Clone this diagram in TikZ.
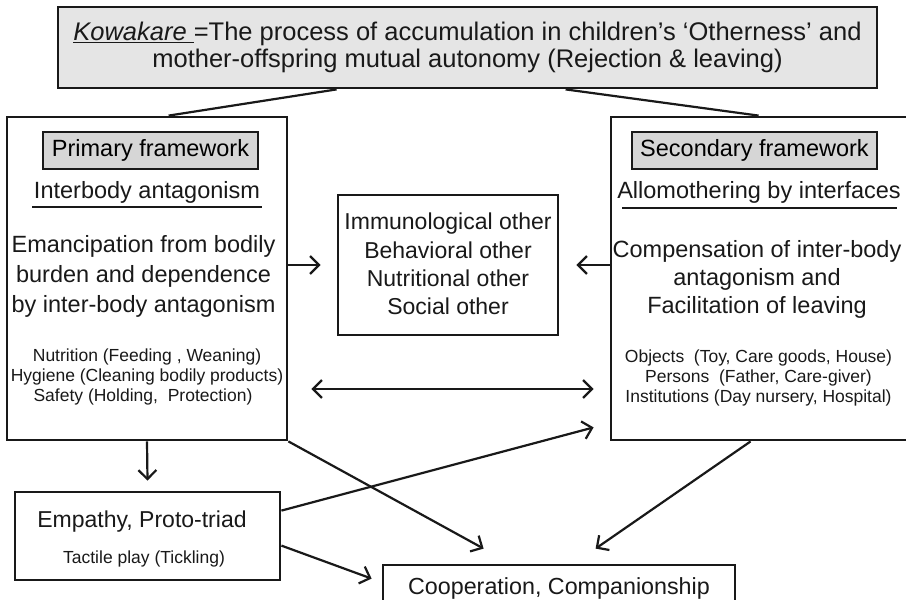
\documentclass[tikz,border=0pt]{standalone}
\usepackage{fontspec}
\setmainfont{Liberation Sans}
\usetikzlibrary{arrows.meta,calc}
\newcommand\myfs[2]{\fontsize{#1}{#2}\selectfont}
\definecolor{topfill}{gray}{0.9}
\definecolor{labfill}{gray}{0.84}
\definecolor{ink}{gray}{0.1}
\begin{document}
\begin{tikzpicture}[x=1pt,y=-1pt,
  box/.style={draw=ink, line width=2.8pt, inner sep=0pt, rectangle},
  labbox/.style={box, fill=labfill, line width=2.6pt, minimum width=215pt, minimum height=37pt, font=\myfs{23.5}{27}},
  txt/.style={inner sep=0pt, align=center, text=ink},
  big/.style={txt, font=\myfs{23.5}{30}},
  small/.style={txt, font=\myfs{17.5}{20}},
  conn/.style={draw=ink, line width=2.2pt},
  arr/.style={conn, -{Straight Barb[length=9pt,width=18pt,line width=2.2pt]}},
  darr/.style={conn, {Straight Barb[length=9pt,width=18pt,line width=2.2pt]}-{Straight Barb[length=9pt,width=18pt,line width=2.2pt]}}
]
\clip (0,0) rectangle (906,600);
\fill[white] (0,0) rectangle (906,600);

% top box
\node[box, fill=topfill, minimum width=819pt, minimum height=81pt] (tb) at (467.5,47.5) {};
\node[txt, font=\myfs{25.5}{27}] (tt) at (467.5,47) {\underline{\textit{Kowakare}\ }=The process of accumulation in children’s ‘Otherness’ and\\mother-offspring mutual autonomy (Rejection \& leaving)};

% left box
\node[box, minimum width=280pt, minimum height=323pt] (lb) at (147,278.5) {};
\node[labbox] (pf) at (150.5,150.5) {Primary framework};
\node[big] (ia) at (147,192) {Interbody antagonism};
\draw[ink, line width=2pt] (32,207) -- (262,207);
\node[big] (em) at (143.5,276) {Emancipation from bodily\\burden and dependence\\by inter-body antagonism};
\node[small] (nu) at (147,377) {Nutrition (Feeding , Weaning)\\Hygiene (Cleaning bodily products)\\Safety (Holding,\ \ Protection)\hspace*{8pt}};

% centre box
\node[box, minimum width=220pt, minimum height=140pt] (mid) at (448,265) {};
\node[txt, font=\myfs{23}{28.3}] (mt) at (448,264) {Immunological other\\Behavioral other\\Nutritional other\\Social other};

% right box
\node[box, minimum width=297pt, minimum height=323pt] (rb) at (759.5,278.5) {};
\node[labbox, minimum width=245pt] (sf) at (754.5,150.5) {Secondary framework};
\node[big] (al) at (759,192) {Allomothering by interfaces};
\draw[ink, line width=2pt] (622,208) -- (897,208);
\node[big, font=\myfs{23.5}{28}] (co) at (757,279) {Compensation of inter-body\\antagonism and\\Facilitation of leaving};
\node[small] (ob) at (758.5,378) {Objects\ \ (Toy, Care goods, House)\\Persons\ \ (Father, Care-giver)\\Institutions (Day nursery, Hospital)};

% empathy box
\node[box, minimum width=265pt, minimum height=88pt] (eb) at (147.5,536) {};
\node[txt, font=\myfs{23}{27}] (et) at (142,522) {Empathy, Proto-triad};
\node[small] (tp) at (144,559) {Tactile play (Tickling)};

% cooperation box
\node[box, minimum width=352pt, minimum height=50pt] (cb) at (559,590) {};
\node[txt, font=\myfs{23.3}{27}] (ct) at (559,588) {Cooperation, Companionship};

% connectors
\coordinate (dy) at (0,389);
\draw[conn] ([xshift=280pt]tb.south west) -- ([xshift=163pt]lb.north west);
\draw[conn] ([xshift=509pt]tb.south west) -- ([xshift=149pt]rb.north west);
\draw[arr] (lb.east |- mid.west) -- ([xshift=-16pt]mid.west);
\draw[arr] (rb.west |- mid.east) -- ([xshift=17pt]mid.east);
\draw[darr, shorten <=23pt, shorten >=16pt] (lb.east |- dy) -- (rb.west |- dy);
\draw[arr] (lb.south) -- ([yshift=10pt]eb.north);
\draw[arr] (lb.south east) -- ([xshift=102pt,yshift=15pt]cb.north west);
\draw[arr] ([xshift=141pt]rb.south west) -- ([xshift=214pt,yshift=15pt]cb.north west);
\draw[arr] ([yshift=-20pt]eb.north east) -- ([xshift=-16pt,yshift=14pt]rb.south west);
\draw[arr] ([yshift=-55pt]eb.north east) -- ([xshift=-10pt,yshift=-15pt]cb.north west);
\end{tikzpicture}
\end{document}
